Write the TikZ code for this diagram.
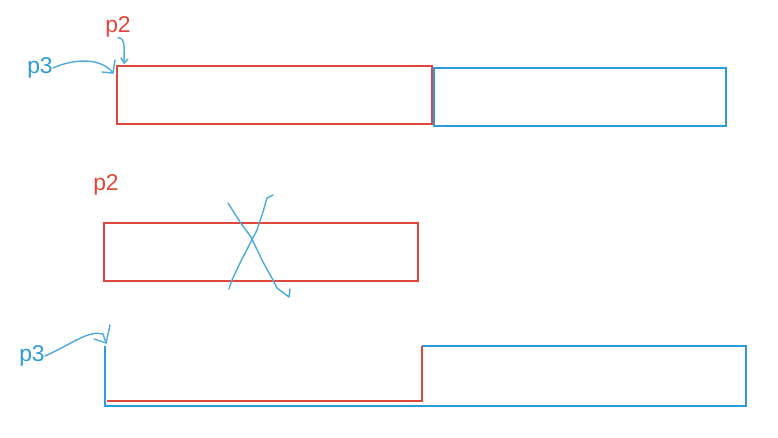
\documentclass[tikz,border=0pt]{standalone}
\usepackage{fontspec}
\setmainfont{Liberation Sans}
\usetikzlibrary{positioning}
\definecolor{penred}{RGB}{222,72,60}
\definecolor{penblue}{RGB}{45,155,215}
\tikzset{
  redbox/.style   = {draw=penred, line width=0.7pt},
  bluebox/.style  = {draw=penblue, line width=0.7pt},
  redlabel/.style = {text=penred, inner sep=0pt, font=\fontsize{13}{15}\selectfont},
  bluelabel/.style= {text=penblue, inner sep=0pt, font=\fontsize{13}{15}\selectfont},
  ink/.style      = {draw=penblue!85!white, line width=0.8pt, line cap=round, line join=round},
}

\begin{document}
\begin{tikzpicture}[x=0.02cm, y=-0.02cm]
  \useasboundingbox (0,0) rectangle (778,437);
  % top row: two boxes side by side
  \coordinate (ra1) at (117,66);  \coordinate (ra2) at (432,124);
  \coordinate (ba1) at (434,68);  \coordinate (ba2) at (726,126);
  \draw[redbox]  (ra1) rectangle (ra2);
  \draw[bluebox] (ba1) rectangle (ba2);
  \node[redlabel]  (p2a) at (118,27) {p2};
  \node[bluelabel] (p3a) at (40,68)  {p3};
  \coordinate (p2tip) at (124,63);
  \coordinate (p3tip) at (113,73);
  \draw[ink] (p2a.south) .. controls (126,38) and (124,50) .. (p2tip);
  \draw[ink] (121,58) -- (p2tip) -- (128,59);
  \draw[ink] (p3a.east) .. controls (75,58) and (102,58) .. (p3tip);
  \draw[ink] (102,72) -- (p3tip) -- (115,60);
  % middle row: crossed out box
  \coordinate (rb1) at (104,223); \coordinate (rb2) at (418,281);
  \draw[redbox] (rb1) rectangle (rb2);
  \node[redlabel] (p2b) at (106,185) {p2};
  \draw[ink] plot coordinates {(228,203) (240,222) (251,237) (263,262) (273,280) (277,288) (289,297) (290,289)};
  \draw[ink] plot coordinates {(273,195) (267,198) (263,212) (257,230) (240,263) (232,280) (229,289)};
  % bottom row: merged box
  \coordinate (bc1) at (105,346); \coordinate (bc2) at (746,406);
  \coordinate (mid) at (422,346);
  \draw[bluebox] (mid) -- (bc2 |- bc1) -- (bc2) -- (bc1 |- bc2) -- (bc1);
  \draw[redbox] (107,401) -- (mid |- 0,401) -- (mid);
  \node[bluelabel] (p3c) at (32,356) {p3};
  \coordinate (p3ctip) at (106,343);
  \draw[ink] (p3c.east) .. controls (72,344) and (88,330) .. (103,334) -- (p3ctip);
  \draw[ink] (94,339) -- (p3ctip) -- (110,325);
\end{tikzpicture}
\end{document}
